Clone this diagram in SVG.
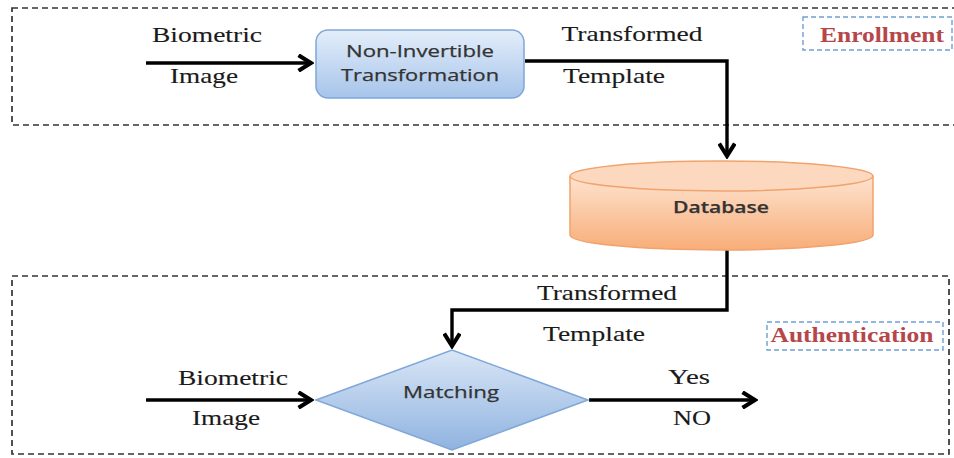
<svg xmlns="http://www.w3.org/2000/svg" width="954" height="458" viewBox="0 0 954 458">
<style>
.frame{fill:none;stroke:#333;stroke-width:1.7;stroke-dasharray:6 4}
.tag{fill:none;stroke:#6f9fd4;stroke-width:1.4;stroke-dasharray:5 3}
.lbl{font-family:"Liberation Serif",serif;font-size:21px;fill:#1a1a1a;stroke:#1a1a1a;stroke-width:0.12}
.tagtxt{font-family:"Liberation Serif",serif;font-size:20px;font-weight:bold;fill:#b5474a}
.ntxt{font-family:"Open Sans","Liberation Sans",sans-serif;font-size:16px;fill:#333;stroke:#333;stroke-width:0.25}
.conn{fill:none;stroke:#000;stroke-width:3.4}
</style>
<defs>
<marker id="arr" viewBox="0 0 12 12" refX="10" refY="6" markerWidth="5.5" markerHeight="5.5" orient="auto" markerUnits="strokeWidth">
<path d="M2,1 L10,6 L2,11" fill="none" stroke="#000" stroke-width="2.6" stroke-linejoin="miter"/>
</marker>
<linearGradient id="gBox" x1="0" y1="0" x2="0" y2="1">
<stop offset="0" stop-color="#e4eefa"/><stop offset="1" stop-color="#a6c4ea"/>
</linearGradient>
<linearGradient id="gDia" x1="0" y1="0" x2="0" y2="1">
<stop offset="0" stop-color="#d9e6f6"/><stop offset="1" stop-color="#90b3e0"/>
</linearGradient>
<linearGradient id="gDb" x1="0" y1="0" x2="0" y2="1">
<stop offset="0" stop-color="#fde3cf"/><stop offset="1" stop-color="#f8ad78"/>
</linearGradient>
</defs>

<g id="enrollment-frame">
<rect class="frame" x="12" y="8" width="960" height="117"/>
<rect class="tag" x="803" y="17" width="149" height="33"/>
<text class="tagtxt" x="882" y="42" text-anchor="middle" textLength="124" lengthAdjust="spacingAndGlyphs">Enrollment</text>
</g>

<g id="authentication-frame">
<rect class="frame" x="12" y="276" width="937" height="178"/>
<rect class="tag" x="767" y="322" width="176" height="28"/>
<text class="tagtxt" x="852" y="342" text-anchor="middle" textLength="163" lengthAdjust="spacingAndGlyphs">Authentication</text>
</g>

<g id="connectors">
<line class="conn" x1="146" y1="63" x2="311" y2="63" marker-end="url(#arr)"/>
<polyline class="conn" points="525,61 727,61 727,156" marker-end="url(#arr)"/>
<polyline class="conn" points="727,250 727,310 452,310 452,346" marker-end="url(#arr)"/>
<line class="conn" x1="146" y1="400" x2="311" y2="400" marker-end="url(#arr)"/>
<line class="conn" x1="589" y1="400" x2="755" y2="400" marker-end="url(#arr)"/>
<text class="lbl" x="207" y="42" text-anchor="middle" textLength="110" lengthAdjust="spacingAndGlyphs">Biometric</text>
<text class="lbl" x="204" y="83" text-anchor="middle" textLength="68" lengthAdjust="spacingAndGlyphs">Image</text>
<text class="lbl" x="632" y="41" text-anchor="middle" textLength="141" lengthAdjust="spacingAndGlyphs">Transformed</text>
<text class="lbl" x="614" y="83" text-anchor="middle" textLength="102" lengthAdjust="spacingAndGlyphs">Template</text>
<text class="lbl" x="607" y="300" text-anchor="middle" textLength="140" lengthAdjust="spacingAndGlyphs">Transformed</text>
<text class="lbl" x="594" y="341" text-anchor="middle" textLength="102" lengthAdjust="spacingAndGlyphs">Template</text>
<text class="lbl" x="233" y="385" text-anchor="middle" textLength="110" lengthAdjust="spacingAndGlyphs">Biometric</text>
<text class="lbl" x="226" y="425" text-anchor="middle" textLength="68" lengthAdjust="spacingAndGlyphs">Image</text>
<text class="lbl" x="689" y="384" text-anchor="middle" textLength="42" lengthAdjust="spacingAndGlyphs">Yes</text>
<text class="lbl" x="692" y="425" text-anchor="middle" textLength="38" lengthAdjust="spacingAndGlyphs">NO</text>
</g>

<g id="non-invertible-transformation">
<rect x="316" y="30" width="208" height="68" rx="12" ry="12" fill="url(#gBox)" stroke="#7fa7d9" stroke-width="1.5"/>
<text class="ntxt" x="420" y="57" text-anchor="middle" textLength="148" lengthAdjust="spacingAndGlyphs">Non-Invertible</text>
<text class="ntxt" x="420" y="81" text-anchor="middle" textLength="158" lengthAdjust="spacingAndGlyphs">Transformation</text>
</g>

<g id="database">
<path d="M570,176 L570,235 A151.5,15 0 0 0 873,235 L873,176" fill="url(#gDb)" stroke="#f2a26c" stroke-width="1.5"/>
<ellipse cx="721.5" cy="176" rx="151.5" ry="15" fill="#fcd9be" stroke="#f2a26c" stroke-width="1.5"/>
<text class="ntxt" x="721" y="213" text-anchor="middle" font-weight="600" textLength="96" lengthAdjust="spacingAndGlyphs">Database</text>
</g>

<g id="matching">
<polygon points="316,400 452,350 588,400 452,450" fill="url(#gDia)" stroke="#7fa7d9" stroke-width="1.5"/>
<text class="ntxt" x="451" y="398" text-anchor="middle" textLength="96" lengthAdjust="spacingAndGlyphs">Matching</text>
</g>
</svg>
